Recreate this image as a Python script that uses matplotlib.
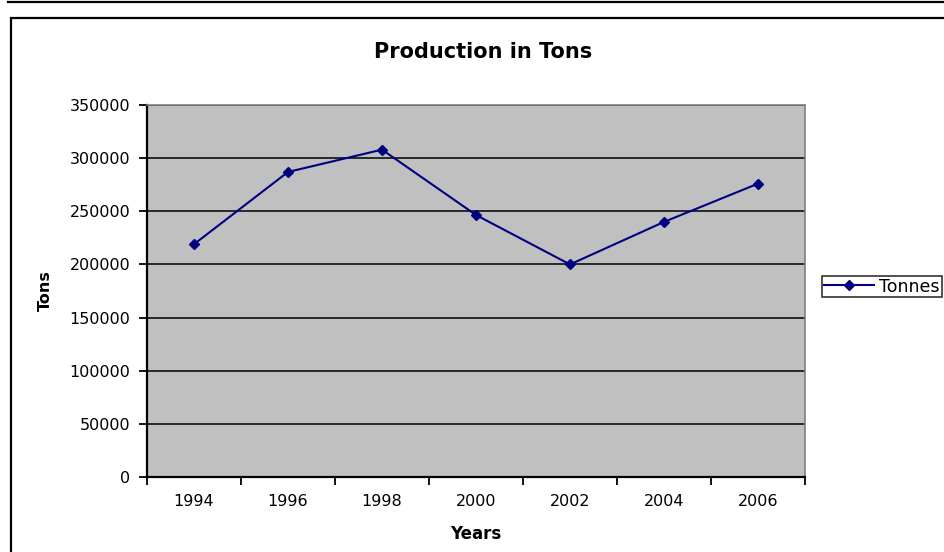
import matplotlib
matplotlib.use('Agg')
import matplotlib.pyplot as plt
from matplotlib.patches import Rectangle
from matplotlib.lines import Line2D
import numpy as np

#--------
#data

years = ['1994', '1996', '1998', '2000', '2002', '2004', '2006']
tonnes = [219000, 287000, 308000, 246500, 200000, 240000, 276000]
yticks = [0, 50000, 100000, 150000, 200000, 250000, 300000, 350000]

plt.rcParams['font.family'] = ['DejaVu Sans']

W, H = 944, 552
fig = plt.figure(figsize=(W / 100, H / 100), dpi=100)

#outer frame lines
fig.add_artist(Line2D([8 / W, 1], [1 - 1.5 / H, 1 - 1.5 / H], color='black', lw=1.6))
fig.add_artist(Rectangle((11 / W, -0.05), 1.1, 1 - 18 / H + 0.05, fill=False,
                         edgecolor='black', lw=1.6))

ax = fig.add_axes([147 / W, 1 - 477 / H, (805 - 147) / W, (477 - 105) / H])
ax.set_facecolor('#C0C0C0')

x = np.arange(len(years)) + 0.5
ax.plot(x, tonnes, color='#000080', lw=1.5, marker='D', markersize=5.5,
        label='Tonnes', zorder=3)

ax.set_xlim(0, len(years))
ax.set_ylim(0, 350000)
ax.set_yticks(yticks)
ax.set_yticklabels([str(v) for v in yticks], fontsize=11.5)
ax.yaxis.grid(True, color='black', lw=1.1)
ax.set_axisbelow(True)

#category axis: ticks between categories, labels at centres
ax.set_xticks(np.arange(len(years) + 1))
ax.set_xticklabels([])
ax.set_xticks(x, minor=True)
ax.set_xticklabels(years, minor=True, fontsize=11.5)
ax.tick_params(axis='x', which='minor', length=0, pad=12)
ax.tick_params(axis='both', which='major', direction='out', length=6, width=1.3)
ax.tick_params(axis='y', pad=6)

for s in ['left', 'bottom']:
    ax.spines[s].set_linewidth(1.6)
    ax.spines[s].set_color('black')
for s in ['top', 'right']:
    ax.spines[s].set_linewidth(1.2)
    ax.spines[s].set_color('#808080')

ax.set_xlabel('Years', fontsize=12, fontweight='bold', labelpad=12)
ax.set_ylabel('Tons', fontsize=11.5, fontweight='bold', labelpad=12)

fig.text(483 / W, 1 - 52 / H, 'Production in Tons', ha='center', va='center',
         fontsize=15, fontweight='bold')

leg = fig.legend(loc='center left', bbox_to_anchor=(822 / W, 1 - 286.5 / H),
                 fontsize=12.5, frameon=True, fancybox=False, borderpad=0.1,
                 handlelength=2.9, handletextpad=0.3, borderaxespad=0)
leg.get_frame().set_edgecolor('black')
leg.get_frame().set_linewidth(1.2)

fig.savefig('out.png', dpi=100)
